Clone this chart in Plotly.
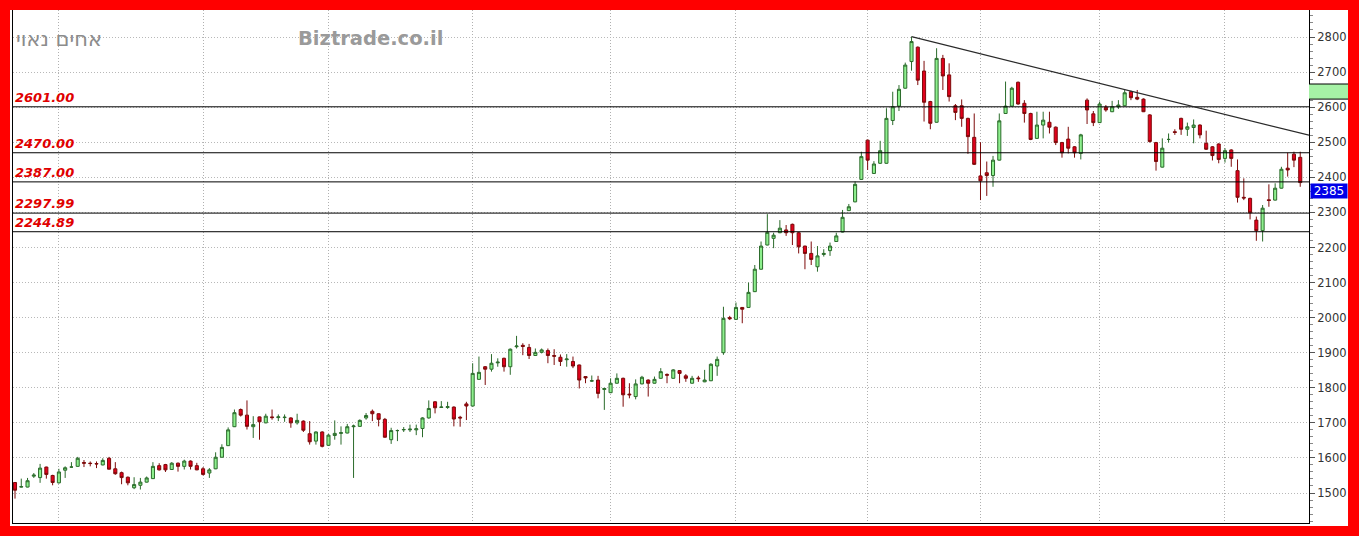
import plotly.graph_objects as go

# ---------------- data ----------------
opens = [1530,1517,1517,1548,1544,1574,1550,1529,1565,1574,1576,1587,1585,1584,1580,1599,1569,1558,1545,1515,
         1522,1531,1541,1578,1581,1567,1585,1576,1591,1578,1569,1557,1569,1602,1635,1689,1738,1722,1689,1717,
         1700,1717,1715,1715,1714,1700,1705,1669,1648,1674,1636,1664,1670,1671,1689,1690,1714,1733,1726,1710,
         1652,1678,1680,1680,1680,1684,1714,1760,1744,1744,1745,1716,1754,1748,1824,1860,1853,1871,1884,1860,
         1917,1921,1915,1892,1901,1906,1892,1887,1880,1875,1865,1832,1819,1822,1795,1786,1813,1827,1782,1775,
         1811,1822,1813,1827,1838,1827,1849,1834,1813,1828,1817,1820,1862,1900,2000,1995,2029,2029,2074,2138,
         2207,2226,2242,2250,2266,2242,2204,2183,2145,2180,2191,2217,2244,2305,2330,2394,2506,2411,2440,2440,
         2562,2603,2654,2730,2771,2703,2616,2557,2739,2692,2604,2604,2568,2514,2404,2413,2405,2449,2582,2603,
         2671,2611,2582,2511,2549,2557,2543,2499,2509,2487,2468,2620,2581,2556,2600,2587,2601,2604,2644,2628,
         2623,2578,2499,2429,2508,2530,2568,2537,2542,2549,2497,2487,2495,2454,2478,2419,2343,2340,2278,2248,
         2336,2335,2369,2426,2466,2457]
highs = [1531,1541,1543,1557,1583,1575,1552,1569,1576,1588,1603,1594,1590,1590,1599,1603,1588,1561,1547,1545,
         1543,1547,1588,1585,1583,1588,1587,1595,1593,1586,1574,1571,1616,1639,1687,1738,1741,1764,1719,1718,
         1726,1738,1724,1724,1716,1726,1707,1705,1676,1676,1668,1707,1690,1697,1695,1710,1728,1738,1727,1714,
         1686,1681,1688,1695,1695,1716,1764,1762,1762,1760,1747,1720,1760,1870,1889,1862,1896,1884,1886,1912,
         1948,1927,1925,1912,1912,1912,1910,1895,1896,1889,1866,1832,1835,1834,1800,1827,1841,1829,1813,1824,
         1834,1824,1832,1856,1841,1853,1850,1839,1834,1834,1851,1870,1889,2031,2005,2043,2030,2100,2150,2217,
         2295,2242,2278,2264,2268,2244,2205,2217,2204,2195,2214,2242,2307,2324,2388,2473,2507,2446,2504,2597,
         2644,2663,2727,2801,2773,2732,2618,2768,2749,2725,2609,2622,2570,2582,2500,2445,2461,2582,2673,2658,
         2673,2620,2584,2587,2587,2587,2545,2501,2544,2489,2524,2625,2589,2616,2606,2618,2620,2649,2647,2649,
         2625,2580,2501,2511,2525,2537,2570,2556,2565,2551,2533,2489,2497,2483,2480,2451,2397,2342,2288,2321,
         2380,2383,2430,2470,2473,2473]
lows = [1484,1516,1516,1543,1529,1541,1522,1527,1543,1573,1575,1574,1576,1571,1579,1567,1552,1525,1522,1511,
        1510,1530,1540,1564,1560,1566,1561,1567,1567,1565,1550,1543,1568,1601,1634,1688,1718,1681,1657,1652,
        1699,1709,1705,1703,1686,1695,1674,1638,1638,1630,1634,1652,1638,1670,1543,1689,1709,1705,1690,1658,
        1640,1648,1674,1674,1665,1659,1712,1727,1743,1740,1690,1689,1708,1747,1823,1808,1846,1860,1846,1837,
        1912,1893,1882,1891,1898,1870,1865,1862,1860,1856,1798,1813,1817,1770,1737,1785,1812,1746,1770,1767,
        1810,1775,1812,1826,1813,1826,1813,1817,1812,1817,1816,1819,1834,1894,1993,1994,1984,2028,2073,2137,
        2206,2198,2241,2233,2207,2183,2138,2150,2131,2174,2176,2216,2243,2304,2329,2393,2421,2410,2438,2439,
        2549,2589,2653,2704,2663,2559,2537,2556,2649,2616,2563,2544,2467,2435,2335,2347,2373,2448,2581,2602,
        2607,2556,2506,2510,2511,2525,2492,2456,2468,2456,2451,2552,2546,2555,2587,2586,2595,2603,2620,2620,
        2586,2499,2419,2428,2499,2521,2521,2518,2497,2511,2478,2448,2440,2442,2430,2328,2335,2280,2219,2217,
        2316,2334,2368,2402,2429,2373]
closes = [1508,1518,1535,1551,1571,1553,1530,1560,1572,1574,1599,1585,1584,1583,1593,1568,1555,1544,1529,1524,
          1531,1543,1576,1566,1566,1585,1576,1591,1576,1566,1553,1566,1602,1630,1680,1729,1722,1690,1695,1703,
          1719,1715,1717,1716,1700,1707,1679,1646,1674,1633,1665,1670,1672,1689,1691,1707,1721,1726,1710,1659,
          1678,1678,1681,1682,1683,1714,1741,1743,1745,1746,1711,1714,1748,1841,1844,1853,1870,1873,1860,1910,
          1919,1918,1892,1901,1908,1892,1890,1875,1882,1862,1822,1828,1820,1784,1798,1813,1827,1780,1780,1811,
          1830,1813,1824,1846,1836,1851,1841,1827,1827,1826,1822,1867,1881,1998,1997,2029,2024,2072,2138,2204,
          2243,2235,2255,2242,2242,2202,2183,2166,2176,2183,2204,2233,2286,2316,2380,2459,2449,2438,2476,2568,
          2601,2651,2720,2787,2677,2614,2554,2739,2689,2630,2585,2568,2516,2437,2390,2405,2449,2561,2603,2654,
          2609,2582,2508,2549,2563,2543,2499,2470,2483,2470,2521,2592,2556,2609,2592,2601,2606,2641,2627,2623,
          2587,2502,2445,2483,2508,2528,2537,2544,2549,2521,2480,2462,2451,2476,2454,2343,2341,2299,2248,2312,
          2334,2369,2423,2421,2449,2385]
bar_index = list(range(len(closes)))

month_start_bars = [7, 30, 50, 73, 95, 115, 136, 154, 173, 193]
level_values = [2601.00, 2470.00, 2387.00, 2297.99, 2244.89]
y_ticks = [1500, 1600, 1700, 1800, 1900, 2000, 2100, 2200, 2300, 2400, 2500, 2600, 2700, 2800]
trend_end_bar = 206.4
trend_end_value = 2520
last_price_label = "2385"
green_zone = [2623, 2666]
title_hebrew = "אחים נאוי"
watermark = "Biztrade.co.il"

# ---------------- figure ----------------
fig = go.Figure()
fig.add_trace(go.Candlestick(
    x=bar_index, open=opens, high=highs, low=lows, close=closes,
    increasing=dict(line=dict(color="#2b6b2b", width=1), fillcolor="#8ef08e"),
    decreasing=dict(line=dict(color="#7d0a0a", width=1), fillcolor="#e2001c"),
    whiskerwidth=0, hoverinfo="skip", showlegend=False,
))

shapes = []
# white chart panel over the red frame
shapes.append(dict(type="rect", xref="paper", yref="paper", x0=-0.0023, x1=1.0301, y0=-0.006, y1=1.0,
                   fillcolor="white", line=dict(width=0), layer="below"))
for lv in level_values:
    shapes.append(dict(type="line", xref="paper", yref="y", x0=0, x1=1, y0=lv, y1=lv,
                       line=dict(color="black", width=1)))
# trend line from the highest high
peak_i = max(range(len(highs)), key=lambda i: highs[i])
shapes.append(dict(type="line", xref="x", yref="y", x0=peak_i, y0=highs[peak_i],
                   x1=trend_end_bar, y1=trend_end_value, line=dict(color="#2a2a2a", width=1.2)))
# green zone on price scale
shapes.append(dict(type="rect", xref="paper", yref="y", x0=1.0, x1=1.0301, y0=green_zone[0], y1=green_zone[1],
                   fillcolor="#a6f2a6", line=dict(width=0)))
for gz in green_zone:
    shapes.append(dict(type="line", xref="paper", yref="y", x0=1.0, x1=1.0301, y0=gz, y1=gz,
                       line=dict(color="black", width=1)))

annotations = []
for lv in level_values:
    annotations.append(dict(xref="paper", yref="y", x=0, y=lv, xanchor="left", yanchor="bottom",
                            text="<b><i>%.2f</i></b>" % lv, showarrow=False, yshift=0,
                            font=dict(family="DejaVu Sans", size=13, color="#e00000")))
annotations.append(dict(xref="paper", yref="paper", x=0.0008, y=0.9435, xanchor="left", yanchor="middle",
                        text=title_hebrew, showarrow=False,
                        font=dict(family="DejaVu Sans", size=21, color="#8c8c8c")))
annotations.append(dict(xref="paper", yref="paper", x=0.2762, y=0.9435, xanchor="center", yanchor="middle",
                        text="<b>" + watermark + "</b>", showarrow=False,
                        font=dict(family="DejaVu Sans", size=19.5, color="#9a9a9a")))
annotations.append(dict(xref="paper", yref="y", x=1.0008, y=closes[-1], xanchor="left", yanchor="top",
                        text=last_price_label, showarrow=False, bgcolor="#0000e8", borderpad=1,
                        width=34, height=12, align="center",
                        font=dict(family="DejaVu Sans", size=12, color="white")))

fig.update_layout(
    width=1359, height=536,
    margin=dict(l=13, r=50, t=10, b=13),
    paper_bgcolor="#ff0000", plot_bgcolor="white",
    font=dict(family="DejaVu Sans"),
    showlegend=False, boxgap=0.3,
    shapes=shapes, annotations=annotations,
    xaxis=dict(range=[-0.32, 206.4], tickvals=month_start_bars, showticklabels=False, ticks="",
               showgrid=True, gridcolor="#b0b0b0", griddash="1px,2px", gridwidth=1,
               showline=True, linecolor="black", linewidth=1, mirror=False, zeroline=False,
               rangeslider=dict(visible=False), fixedrange=True),
    yaxis=dict(side="right", range=[1414.5, 2877], tickvals=y_ticks, ticks="outside", ticklen=5,
               tickcolor="#555555", tickfont=dict(family="DejaVu Sans", size=11.5, color="#333333"),
               showgrid=True, gridcolor="#b8b8b8", griddash="1px,2px", gridwidth=1,
               showline=True, linecolor="black", linewidth=1, mirror=True, zeroline=False,
               minor=dict(dtick=20, tick0=1400, ticks="outside", ticklen=3, tickcolor="#888888", showgrid=False),
               fixedrange=True),
)

fig.write_html("out.html", config=dict(displayModeBar=False),
               post_script="document.body.style.margin='0px';document.body.style.overflow='hidden';")
